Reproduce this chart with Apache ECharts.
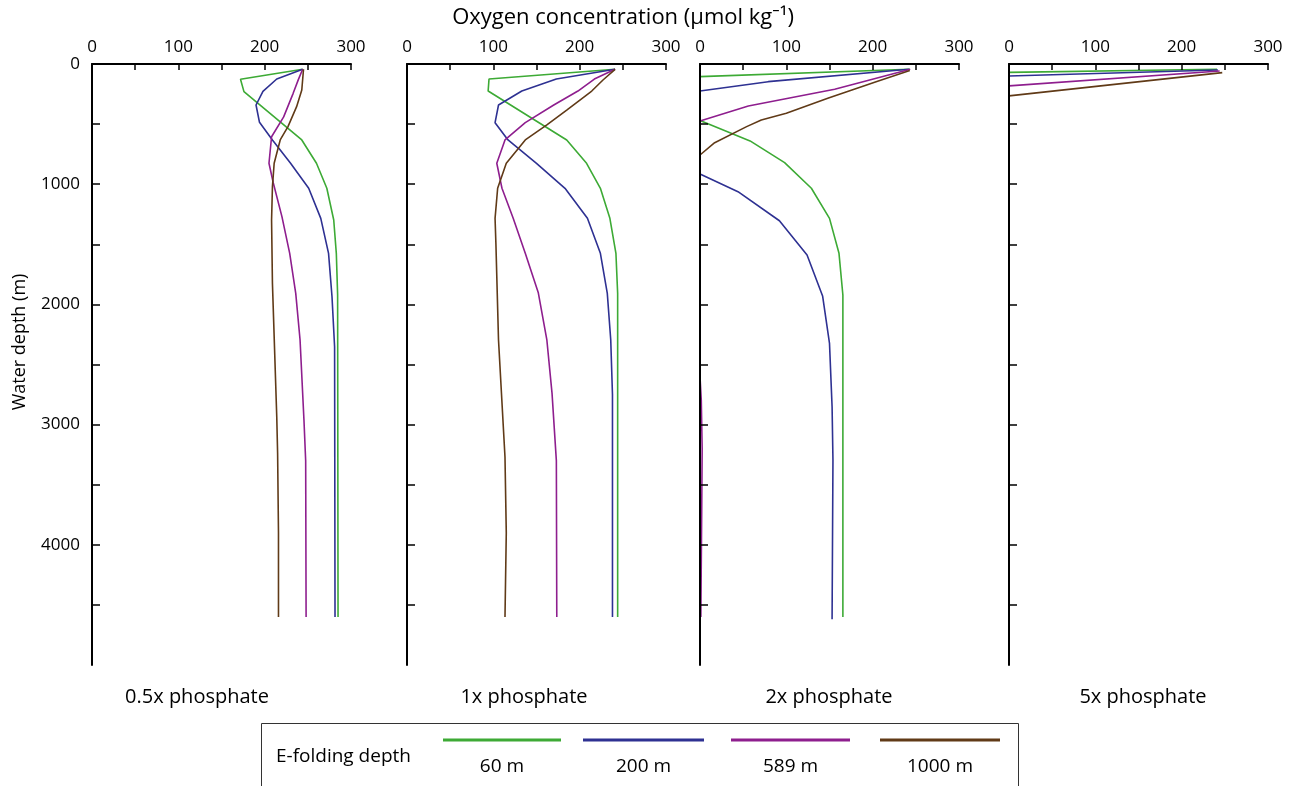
<!DOCTYPE html>
<html>
<head>
<meta charset="utf-8">
<title>Oxygen profiles</title>
<script src="https://cdn.jsdelivr.net/npm/echarts@6/dist/echarts.min.js"></script>
<style>
  html, body { margin: 0; padding: 0; background: #fff; }
  #chart { width: 1298px; height: 786px; }
</style>
</head>
<body>
<div id="chart"></div>
<script>
// Panel and legend labels
const PANEL_NAMES = ['0.5x phosphate', '1x phosphate', '2x phosphate', '5x phosphate'];
const EFOLD_NAMES = ['60 m', '200 m', '589 m', '1000 m'];
const LINE_COLORS = ['#3daa35', '#2e3192', '#8e1e8e', '#603a17'];

// Axis ticks and labels
const X_TICKS = [0, 50, 100, 150, 200, 250, 300];
const X_LABELS = [0, 100, 200, 300];
const Y_TICKS = [500, 1000, 1500, 2000, 2500, 3000, 3500, 4000, 4500];
const Y_LABELS = [0, 1000, 2000, 3000, 4000];

// Oxygen profiles: [O2 (umol/kg), depth (m)]
// 0.5x phosphate
const p05_60 = [[244,44],[172,127],[176,230],[243,632],[260,826],[272,1034],[280,1298],[283,1575],[284.5,1920],[285,4600]];
const p05_200 = [[244,44],[214,125],[198,228],[190,341],[194,485],[209,632],[230,826],[251,1034],[265,1284],[274,1575],[278,1936],[281,2352],[281.5,4600]];
const p05_589 = [[244,44],[239,130],[233,244],[222,440],[208,605],[205,826],[210,990],[220,1270],[229,1575],[236,1908],[241,2296],[245.5,2960],[247.5,3300],[248,4600]];
const p05_1000 = [[245,44],[243,216],[237,355],[227,521],[218,632],[211,826],[209,1020],[208,1300],[209,1825],[214,2934],[215,3240],[216,3900],[216,4600]];
// 1x phosphate
const p1_60 = [[241,44],[95,125],[94,225],[185,632],[208,826],[224,1034],[235,1284],[242,1575],[244,1908],[244,4600]];
const p1_200 = [[241,44],[173,125],[133,225],[106,341],[102,488],[117,632],[150,826],[183,1034],[209,1284],[224,1575],[232,1908],[236,2296],[238,2750],[238,4600]];
const p1_589 = [[241,44],[217,125],[198,225],[170,341],[137,488],[113.5,632],[104,826],[110,1034],[123,1284],[137,1575],[152,1900],[162,2296],[168,2740],[173,3300],[173.5,4600]];
const p1_1000 = [[241,44],[227,133],[214,225],[185,383],[162,507],[137,632],[115,826],[105,1034],[102,1284],[103,1500],[106,2296],[113.5,3270],[115,3900],[113.5,4600]];
// 2x phosphate
const p2_60 = [[243,44],[0,105],[0,470],[58,640],[98,821],[129,1034],[150,1284],[161,1575],[165.5,1922],[165.5,4600]];
const p2_200 = [[242,44],[79,147],[0,225],[0,915],[44,1062],[92,1304],[124,1589],[142,1930],[150,2324],[153,2851],[154,3295],[153,4620]];
const p2_589 = [[243.5,44],[156,210],[56,350],[0,475],[0,2600],[1.5,2800],[2.5,3200],[2,3700],[1,4600]];
const p2_1000 = [[243,55],[204,147],[148,285],[100,410],[71,466],[54,521],[17,655],[0,757],[0,4600]];
// 5x phosphate
const p5_60 = [[241,44],[0,70],[0,4600]];
const p5_200 = [[242,50],[0,100],[0,4600]];
const p5_589 = [[244,58],[0,182],[0,4600]];
const p5_1000 = [[247,72],[0,265],[0,4600]];

const PANEL_SERIES = [
  [p05_60, p05_200, p05_589, p05_1000],
  [p1_60, p1_200, p1_589, p1_1000],
  [p2_60, p2_200, p2_589, p2_1000],
  [p5_60, p5_200, p5_589, p5_1000]
];

const FONT = '"Open Sans", "Noto Sans", sans-serif';
const GRID_LEFT = [92, 407, 700, 1009];
const GRID_TOP = 64, GRID_W = 259, GRID_H = 601;

const grids = [], xAxes = [], yAxes = [], series = [], graphics = [];

GRID_LEFT.forEach((left, i) => {
  grids.push({ left: left, top: GRID_TOP, width: GRID_W, height: GRID_H });
  xAxes.push({
    type: 'value', gridIndex: i, position: 'top', min: 0, max: 300, z: 5,
    axisLine: { show: true, lineStyle: { color: '#000', width: 2 } },
    axisTick: { show: true, inside: true, length: 6, customValues: X_TICKS, lineStyle: { color: '#000', width: 1.5 } },
    axisLabel: { show: true, customValues: X_LABELS, margin: 8, color: '#000', fontSize: 17, fontFamily: FONT,
      formatter: v => String(v) },
    splitLine: { show: false }
  });
  yAxes.push({
    type: 'value', gridIndex: i, inverse: true, min: 0, max: 5000, z: 5,
    axisLine: { show: true, onZero: false, lineStyle: { color: '#000', width: 2 } },
    axisTick: { show: true, inside: true, length: 8, customValues: Y_TICKS, lineStyle: { color: '#000', width: 1.5 } },
    axisLabel: { show: i === 0, customValues: Y_LABELS, margin: 12, color: '#000', fontSize: 17, fontFamily: FONT,
      formatter: v => String(v) },
    splitLine: { show: false }
  });
  PANEL_SERIES[i].forEach((data, k) => {
    series.push({
      type: 'line', name: EFOLD_NAMES[k], xAxisIndex: i, yAxisIndex: i,
      data: data, showSymbol: false, symbol: 'none', animation: false,
      lineStyle: { color: LINE_COLORS[k], width: 1.6 }, z: 2
    });
  });
});

// Panel captions
const CAPTION_X = [197, 524, 829, 1143];
PANEL_NAMES.forEach((name, i) => {
  graphics.push({ type: 'text', x: CAPTION_X[i], y: 697,
    style: { text: name, textAlign: 'center', textVerticalAlign: 'middle', font: '20px ' + FONT, fill: '#000' } });
});

// Axis titles
graphics.push({ type: 'text', x: 623, y: 18,
  style: { text: 'Oxygen concentration (\u03bcmol kg\u207b\u00b9)', textAlign: 'center', textVerticalAlign: 'middle', font: '22px ' + FONT, fill: '#000' } });
graphics.push({ type: 'text', x: 20, y: 342, rotation: Math.PI / 2,
  style: { text: 'Water depth (m)', textAlign: 'center', textVerticalAlign: 'middle', font: '18px ' + FONT, fill: '#000' } });

// Legend box
graphics.push({ type: 'rect', shape: { x: 261.5, y: 723.5, width: 757, height: 80 },
  style: { fill: 'none', stroke: '#333', lineWidth: 1 } });
graphics.push({ type: 'text', x: 276, y: 757,
  style: { text: 'E-folding depth', textAlign: 'left', textVerticalAlign: 'middle', font: '19px ' + FONT, fill: '#000' } });
const KEY_X = [[443, 561], [583, 704], [731, 850], [880, 1000]];
EFOLD_NAMES.forEach((name, k) => {
  const [x1, x2] = KEY_X[k];
  graphics.push({ type: 'line', shape: { x1: x1, y1: 740, x2: x2, y2: 740 },
    style: { stroke: LINE_COLORS[k], lineWidth: 3 } });
  graphics.push({ type: 'text', x: (x1 + x2) / 2, y: 767,
    style: { text: name, textAlign: 'center', textVerticalAlign: 'middle', font: '19px ' + FONT, fill: '#000' } });
});

const chart = echarts.init(document.getElementById('chart'), null, { renderer: 'canvas' });
chart.setOption({
  backgroundColor: '#fff',
  animation: false,
  grid: grids,
  xAxis: xAxes,
  yAxis: yAxes,
  series: series,
  graphic: graphics
});
</script>
</body>
</html>
